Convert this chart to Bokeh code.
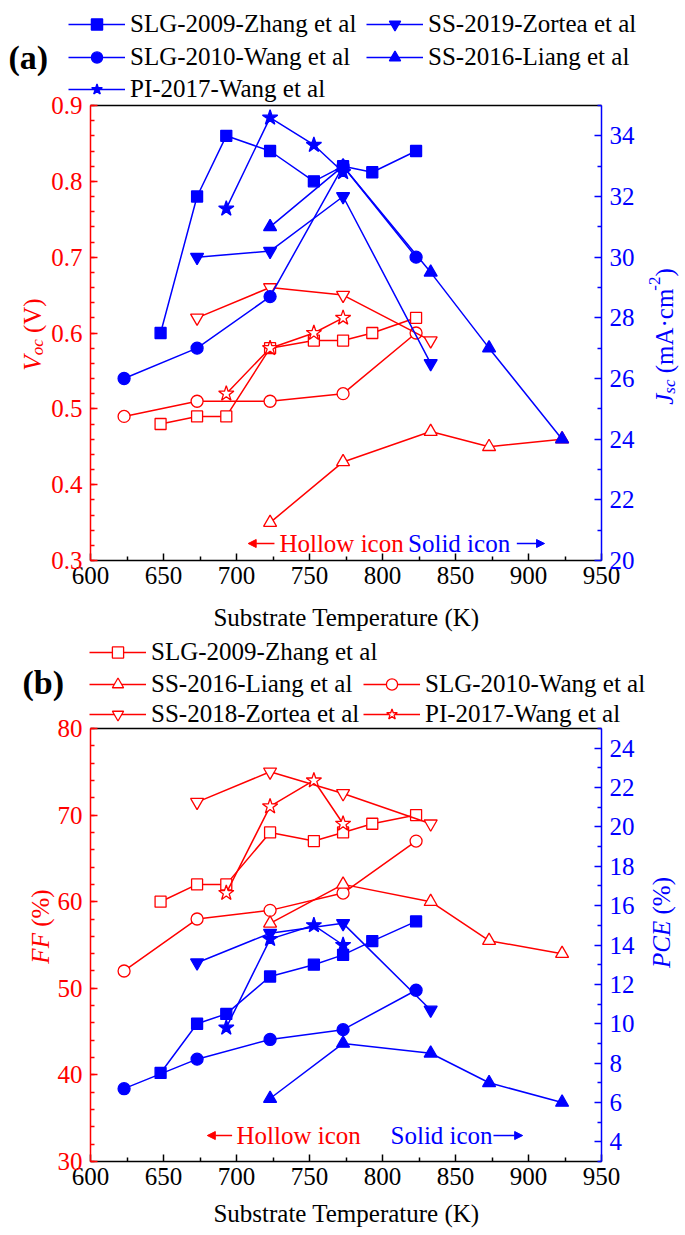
import math
from bokeh.plotting import figure
from bokeh.models import (Range1d, LinearAxis, FixedTicker, Legend, LegendItem, Label,
                          Arrow, NormalHead, NumeralTickFormatter)
from bokeh.embed import file_html
from bokeh.resources import INLINE

# ---------------- data (substrate temperature in K) ----------------
T_SLG2009 = [648, 673, 693, 723, 753, 773, 793, 823]
T_SLG2010 = [623, 673, 723, 773, 823]
T_SS2016 = [723, 773, 833, 873, 923]
T_SS2019 = [673, 723, 773, 833]
T_PI2017 = [693, 723, 753, 773]

# (a) hollow icons: Voc (V)
voc_slg2009 = [0.48, 0.49, 0.49, 0.58, 0.59, 0.59, 0.60, 0.62]
voc_slg2010 = [0.49, 0.51, 0.51, 0.52, 0.60]
voc_ss2016 = [0.35, 0.43, 0.47, 0.45, 0.46]
voc_ss2019 = [0.62, 0.66, 0.65, 0.59]
voc_pi2017 = [0.52, 0.58, 0.60, 0.62]

# (a) solid icons: Jsc (mA/cm2)
jsc_slg2009 = [27.5, 32.0, 34.0, 33.5, 32.5, 33.0, 32.8, 33.5]
jsc_slg2010 = [26.0, 27.0, 28.7, 33.0, 30.0]
jsc_ss2016 = [31.0, 33.0, 29.5, 27.0, 24.0]
jsc_ss2019 = [30.0, 30.2, 32.0, 26.5]
jsc_pi2017 = [31.6, 34.6, 33.7, 32.8]

# (b) hollow icons: FF (%)
ff_slg2009 = [60, 62, 62, 68, 67, 68, 69, 70]
ff_slg2010 = [52, 58, 59, 61, 67]
ff_ss2016 = [57.5, 62, 60, 55.5, 54]
ff_ss2018 = [71.5, 75, 72.5, 69]
ff_pi2017 = [61, 71, 74, 69]

# (b) solid icons: PCE (%)
pce_slg2009 = [7.5, 10.0, 10.5, 12.4, 13.0, 13.5, 14.2, 15.2]
pce_slg2010 = [6.7, 8.2, 9.2, 9.7, 11.7]
pce_ss2016 = [6.2, 9.0, 8.5, 7.0, 6.0]
pce_ss2018 = [13.1, 14.6, 15.1, 10.7]
pce_pi2017 = [9.8, 14.3, 15.0, 14.0]

labels_a = ["SLG-2009-Zhang et al", "SLG-2010-Wang et al", "SS-2016-Liang et al",
            "SS-2019-Zortea et al", "PI-2017-Wang et al"]
labels_b = ["SLG-2009-Zhang et al", "SLG-2010-Wang et al", "SS-2016-Liang et al",
            "SS-2018-Zortea et al", "PI-2017-Wang et al"]

x_ticks = [600, 650, 700, 750, 800, 850, 900, 950]
x_minor = [625, 675, 725, 775, 825, 875, 925]
voc_ticks = [0.3, 0.4, 0.5, 0.6, 0.7, 0.8, 0.9]
voc_minor = [round(0.3 + 0.02 * i, 2) for i in range(31)]
jsc_ticks = [20, 22, 24, 26, 28, 30, 32, 34]
jsc_minor = [21, 23, 25, 27, 29, 31, 33, 35]
ff_ticks = [30, 40, 50, 60, 70, 80]
ff_minor = list(range(30, 81, 2))
pce_ticks = [4, 6, 8, 10, 12, 14, 16, 18, 20, 22, 24]
pce_minor = [3, 5, 7, 9, 11, 13, 15, 17, 19, 21, 23, 25]

# ---------------- layout (page pixels) ----------------
RED = "#FF0000"
BLUE = "#0000FF"
FONT = "'Liberation Serif', 'Times New Roman', serif"
W, H = 685, 1235
FL, FR = 90, 601
A_FT, A_FB = 105, 560
B_FT, B_FB = 728, 1161


def lin(p0, v0, p1, v1):
    return lambda pp: v0 + (pp - p0) * (v1 - v0) / (p1 - p0)


X = lin(FL, 600, FR, 950)
VOC = lin(A_FB, 0.3, A_FT, 0.9)
JSC = lin(A_FB, 20, A_FT, 35)
FFm = lin(B_FB, 30, B_FT, 80)
PCEm = lin(B_FB, 3, B_FT, 25)

p = figure(width=W, height=H, x_range=Range1d(X(0), X(W)), y_range=Range1d(VOC(H), VOC(0)),
           x_axis_type=None, y_axis_type=None, output_backend="svg", toolbar_location=None,
           min_border=0, title=None)
p.extra_y_ranges = {"jsc": Range1d(JSC(H), JSC(0)), "ff": Range1d(FFm(H), FFm(0)),
                    "pce": Range1d(PCEm(H), PCEm(0))}
p.outline_line_color = None
p.background_fill_color = "white"
p.border_fill_color = "white"


def axis(side, rng, loc, bounds, color, ticks, minor, fmt=None, standoff=8, labels=True):
    ax = LinearAxis(y_range_name=rng, fixed_location=loc, bounds=bounds,
                    ticker=FixedTicker(ticks=ticks, minor_ticks=minor))
    if fmt is not None:
        ax.formatter = fmt
    ax.axis_line_color = color
    ax.axis_line_width = 1.5
    ax.major_tick_line_color = color if labels else None
    ax.major_tick_line_width = 1.5
    ax.major_tick_in = 7
    ax.major_tick_out = 0
    ax.minor_tick_line_color = color if labels else None
    ax.minor_tick_line_width = 1.5
    ax.minor_tick_in = 4
    ax.minor_tick_out = 0
    ax.major_label_text_color = color
    ax.major_label_text_font = FONT
    ax.major_label_text_font_size = "25px" if labels else "0px"
    ax.major_label_standoff = standoff
    p.add_layout(ax, side)


# panel (a) axes
axis("left", "default", 600, (0.3, 0.9), RED, voc_ticks, voc_minor, NumeralTickFormatter(format="0.0"))
axis("right", "jsc", 950, (20, 35), BLUE, jsc_ticks, jsc_minor)
axis("below", "default", 0.3, (600, 950), "black", x_ticks, x_minor, standoff=6)
axis("above", "default", 0.9, (600, 950), "black", [], [], labels=False)
# panel (b) axes
axis("left", "ff", 600, (30, 80), RED, ff_ticks, ff_minor)
axis("right", "pce", 950, (3, 25), BLUE, pce_ticks, pce_minor)
axis("below", "ff", 30, (600, 950), "black", x_ticks, x_minor, standoff=6)
axis("above", "ff", 80, (600, 950), "black", [], [], labels=False)

MARKERS = [("square", 11), ("circle", 12), ("triangle", 13), ("inverted_triangle", 13), ("star", 16)]


def series(xs, ys, marker, size, color, fill, rng):
    l = p.line(xs, ys, line_color=color, line_width=1.5, y_range_name=rng)
    s = p.scatter(xs, ys, marker=marker, size=size, line_color=color, fill_color=fill,
                  line_width=1.3, y_range_name=rng)
    return [l, s]


Ts = [T_SLG2009, T_SLG2010, T_SS2016, T_SS2019, T_PI2017]
voc = [voc_slg2009, voc_slg2010, voc_ss2016, voc_ss2019, voc_pi2017]
jsc = [jsc_slg2009, jsc_slg2010, jsc_ss2016, jsc_ss2019, jsc_pi2017]
ff = [ff_slg2009, ff_slg2010, ff_ss2016, ff_ss2018, ff_pi2017]
pce = [pce_slg2009, pce_slg2010, pce_ss2016, pce_ss2018, pce_pi2017]

for T, y, (m, s) in zip(Ts, voc, MARKERS):
    series(T, y, m, s, RED, "white", "default")
rends_a = [series(T, y, m, s, BLUE, BLUE, "jsc") for T, y, (m, s) in zip(Ts, jsc, MARKERS)]
rends_b = [series(T, y, m, s, RED, "white", "ff") for T, y, (m, s) in zip(Ts, ff, MARKERS)]
for T, y, (m, s) in zip(Ts, pce, MARKERS):
    series(T, y, m, s, BLUE, BLUE, "pce")

# ---------------- legends ----------------
LH = 28


def add_leg(label, rends, px, pyc):
    leg = Legend(items=[LegendItem(label=label, renderers=rends)],
                 location=(px, H - pyc - LH / 2), orientation="vertical",
                 padding=0, margin=0, spacing=0, border_line_color=None,
                 background_fill_alpha=0, glyph_width=57, glyph_height=LH, label_height=LH,
                 label_standoff=5, label_text_font=FONT, label_text_font_size="25px",
                 label_text_color="black")
    p.add_layout(leg)


leg_pos_a = [(68, 24), (68, 57), (366, 57), (366, 24), (68, 89)]
for lab, r, (px, py) in zip(labels_a, rends_a, leg_pos_a):
    add_leg(lab, r, px, py)
leg_pos_b = [(89, 652), (363, 684), (89, 684), (89, 714), (363, 714)]
for lab, r, (px, py) in zip(labels_b, rends_b, leg_pos_b):
    add_leg(lab, r, px, py)

# ---------------- texts ----------------
W_REG = {' ': .25, '(': .333, ')': .333, '%': .833, 'A': .722, 'C': .667, 'E': .611, 'F': .556,
         'P': .556, 'V': .722, 'm': .778, 'c': .444, '\u00b7': .25, '-': .333, '2': .5, 'o': .5,
         's': .389, 'J': .389}
W_IT = {'V': .611, 'J': .444, 'o': .5, 'c': .444, 's': .389, 'F': .611, 'P': .611, 'C': .667, 'E': .611}


def tw(t, size, italic):
    tbl = W_IT if italic else W_REG
    return sum(tbl.get(ch, W_REG.get(ch, .5)) for ch in t) * size


def slabel(text, px, py, **kw):
    p.add_layout(Label(x=px, y=H - py, x_units="screen", y_units="screen",
                       text=text, text_font=FONT, **kw))


def rot_label(pieces, cx, cy, color):
    total = sum(tw(t, s, it) for t, s, it, sh in pieces)
    bx = cx + 8
    y0 = cy + total / 2
    d = 0
    for t, s, it, sh in pieces:
        lead = len(t) - len(t.lstrip(" "))
        d0 = d + tw(" " * lead, s, False)
        slabel(t.lstrip(" "), bx - sh, y0 - d0, angle=math.pi / 2, text_align="left",
               text_baseline="alphabetic", text_font_size=f"{s}px",
               text_font_style="italic" if it else "normal", text_color=color)
        d += tw(t, s, it)


slabel("(a)", 8, 57, text_font_size="34px", text_font_style="bold",
       text_align="left", text_baseline="middle", text_color="black")
slabel("(b)", 22, 682, text_font_size="34px", text_font_style="bold",
       text_align="left", text_baseline="middle", text_color="black")
rot_label([("V", 25, True, 0), ("oc", 17, True, -5), (" (V)", 25, False, 0)], 24, 334, RED)
rot_label([("J", 25, True, 0), ("sc", 17, True, -5), (" (mA\u00b7cm", 25, False, 0),
           ("-2", 17, False, 10), (")", 25, False, 0)], 656, 336, BLUE)
rot_label([("FF", 25, True, 0), (" (%)", 25, False, 0)], 32, 926, RED)
rot_label([("PCE", 25, True, 0), (" (%)", 25, False, 0)], 653, 922, BLUE)
slabel("Substrate Temperature (K)", 346, 617, text_font_size="25px",
       text_align="center", text_baseline="middle", text_color="black")
slabel("Substrate Temperature (K)", 346, 1213, text_font_size="25px",
       text_align="center", text_baseline="middle", text_color="black")


def icon_notes(rng, yv, hx, sx, la, ra):
    p.add_layout(Label(x=hx, y=yv, y_range_name=rng, text="Hollow icon", text_font=FONT,
                       text_font_size="25px", text_color=RED, text_align="left",
                       text_baseline="middle"))
    p.add_layout(Label(x=sx, y=yv, y_range_name=rng, text="Solid icon", text_font=FONT,
                       text_font_size="25px", text_color=BLUE, text_align="left",
                       text_baseline="middle"))
    p.add_layout(Arrow(end=NormalHead(size=8, fill_color=RED, line_color=RED),
                       x_start=la[0], y_start=yv, x_end=la[1], y_end=yv, y_range_name=rng,
                       line_color=RED, line_width=1.5))
    p.add_layout(Arrow(end=NormalHead(size=8, fill_color=BLUE, line_color=BLUE),
                       x_start=ra[0], y_start=yv, x_end=ra[1], y_end=yv, y_range_name=rng,
                       line_color=BLUE, line_width=1.5))


icon_notes("default", 0.3224, 729.4, 817.5, (726, 708), (892, 911))
icon_notes("ff", 33.0, 700.0, 805.5, (697, 680), (876, 896))

open("out.html", "w").write(file_html(p, INLINE))
